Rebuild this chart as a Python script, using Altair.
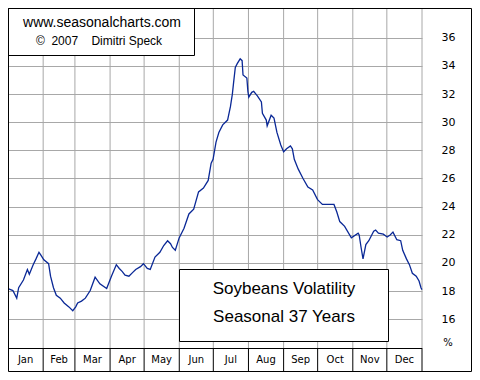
import altair as alt
import pandas as pd

# Day of year (0-365) and seasonal volatility (%)
days = [0, 4.3, 7.7, 9.4, 13.6, 17.1, 18.8, 22.2, 24.7, 27.3, 29.0, 31.6, 35.8, 37.5, 40.1, 42.6, 46.1, 49.5,
        53.7, 57.1, 59.7, 61.4, 64.8, 68.2, 72.5, 76.8, 81.0, 87.0, 91.2, 95.5, 98.1, 100.6, 103.2, 106.6,
        110.0, 112.6, 116.8, 119.4, 122.8, 125.4, 129.6, 133.9, 137.3, 140.7, 143.3, 145.0, 147.5, 150.9,
        155.2, 159.5, 163.7, 168.0, 172.3, 176.5, 179.1, 180.8, 183.4, 185.9, 189.3, 193.6, 196.1, 197.8,
        198.7, 200.4, 202.1, 204.7, 206.4, 207.2, 210.6, 211.5, 212.3, 214.9, 216.6, 220.0, 223.4, 224.3,
        227.7, 228.5, 232.0, 234.5, 237.1, 240.5, 243.0, 245.6, 249.0, 250.7, 252.4, 255.8, 260.1, 264.4,
        268.6, 272.9, 277.2, 281.4, 287.4, 289.9, 292.5, 296.8, 302.7, 308.7, 309.6, 311.3, 313.0, 315.5,
        318.1, 322.4, 324.1, 326.6, 330.9, 334.3, 336.9, 339.4, 342.8, 346.2, 348.0, 351.3, 353.9, 356.5,
        359.9, 362.4, 364.1, 365]
vols = [18.18, 18.04, 17.50, 18.24, 18.79, 19.54, 19.20, 19.88, 20.29, 20.76, 20.56, 20.22, 19.95, 19.06,
        18.24, 17.70, 17.50, 17.16, 16.88, 16.61, 16.88, 17.16, 17.29, 17.50, 18.04, 18.99, 18.52, 18.18,
        19.06, 19.88, 19.61, 19.40, 19.13, 19.06, 19.33, 19.54, 19.74, 19.95, 19.61, 19.54, 20.42, 20.76,
        21.24, 21.58, 21.37, 21.10, 20.90, 21.78, 22.46, 23.48, 23.82, 25.05, 25.32, 25.86, 27.09, 27.36,
        28.59, 29.27, 29.81, 30.15, 31.10, 31.99, 32.67, 33.89, 34.16, 34.50, 34.37, 33.35, 33.14, 32.19,
        31.78, 32.12, 32.19, 31.85, 31.44, 30.63, 30.15, 29.74, 30.49, 30.29, 29.27, 28.38, 27.90, 28.11,
        28.31, 28.11, 27.36, 26.68, 26.00, 25.39, 25.18, 24.50, 24.16, 24.16, 24.16, 23.62, 22.94, 22.60,
        21.78, 22.12, 21.99, 21.10, 20.29, 21.31, 21.58, 22.26, 22.33, 22.12, 22.05, 21.85, 21.99, 22.19,
        21.65, 21.58, 20.90, 20.29, 19.88, 19.27, 19.06, 18.72, 18.24, 18.11]

months = ["Jan", "Feb", "Mar", "Apr", "May", "Jun", "Jul", "Aug", "Sep", "Oct", "Nov", "Dec"]
month_starts = [0, 31, 59, 90, 120, 151, 181, 212, 243, 273, 304, 334]
month_ends = [31, 59, 90, 120, 151, 181, 212, 243, 273, 304, 334, 365]
y_ticks = [16, 18, 20, 22, 24, 26, 28, 30, 32, 34, 36]

W, H = 414, 340
FONT = "Liberation Sans"
GRID = "#a8a8a8"
NB = "\u00a0"

line_df = pd.DataFrame({"d": days, "v": vols})
mdf = pd.DataFrame({"m": months, "s": month_starts, "e": month_ends})
mdf["mid"] = (mdf["s"] + mdf["e"]) / 2
one = pd.DataFrame({"a": [0]})

xs = alt.Scale(domain=[0, 365], nice=False, zero=False)
ys = alt.Scale(domain=[13.96, 38.11], nice=False, zero=False)

vgrid = alt.Chart(mdf).mark_rule(color=GRID, strokeWidth=1).encode(
    x=alt.X("e:Q", scale=xs, axis=None), y=alt.value(0), y2=alt.value(H))

line = alt.Chart(line_df).mark_line(color="#0a2896", strokeWidth=1.3).encode(
    x=alt.X("d:Q", scale=xs, axis=None),
    y=alt.Y("v:Q", scale=ys, axis=alt.Axis(
        orient="right", values=y_ticks, title=None, tickSize=0, domain=False,
        labelPadding=19, grid=True, gridColor=GRID, gridOpacity=1,
        labelFont="DejaVu Sans", labelFontSize=11, labelColor="black")))

box1 = alt.Chart(one).mark_rect(fill="white", stroke="black", strokeWidth=1).encode(
    x=alt.value(0.5), x2=alt.value(186.5), y=alt.value(0.5), y2=alt.value(47.5))
t1 = alt.Chart(one).mark_text(text="www.seasonalcharts.com", font=FONT, fontSize=14,
                              align="center", baseline="middle").encode(
    x=alt.value(94), y=alt.value(15))
t2 = alt.Chart(one).mark_text(text="©" + NB * 2 + "2007" + NB * 4 + "Dimitri Speck", font=FONT, fontSize=12,
                              align="center", baseline="middle").encode(
    x=alt.value(91), y=alt.value(33))

box2 = alt.Chart(one).mark_rect(fill="white", stroke="black", strokeWidth=1).encode(
    x=alt.value(171.5), x2=alt.value(380.5), y=alt.value(261.5), y2=alt.value(333.5))
t3 = alt.Chart(one).mark_text(text="Soybeans Volatility", font=FONT, fontSize=17,
                              align="center", baseline="middle").encode(
    x=alt.value(276), y=alt.value(281))
t4 = alt.Chart(one).mark_text(text="Seasonal 37 Years", font=FONT, fontSize=17,
                              align="center", baseline="middle").encode(
    x=alt.value(276), y=alt.value(309))

row_top = alt.Chart(one).mark_rule(color="black").encode(
    x=alt.value(0), x2=alt.value(W), y=alt.value(H + 0.5))
row_sep = alt.Chart(mdf).mark_rule(color="black").encode(
    x=alt.X("e:Q", scale=xs, axis=None), y=alt.value(H), y2=alt.value(H + 23))
row_txt = alt.Chart(mdf).mark_text(font="DejaVu Sans", fontSize=10, color="black",
                                   baseline="middle").encode(
    x=alt.X("mid:Q", scale=xs, axis=None), y=alt.value(H + 12), text="m:N")
pct = alt.Chart(one).mark_text(text="%", font="DejaVu Sans", fontSize=10,
                               baseline="middle").encode(
    x=alt.value(W + 26), y=alt.value(H - 5))

border = alt.Chart(one).mark_rect(fill=None, stroke="black", strokeWidth=1).encode(
    x=alt.value(0.5), x2=alt.value(463.5), y=alt.value(0.5), y2=alt.value(363.5))

chart = alt.layer(vgrid, line, box1, t1, t2, box2, t3, t4, row_top, row_sep, row_txt, pct, border).properties(
    width=W, height=H,
    autosize=alt.AutoSizeParams(type="none"),
    padding={"left": 0, "top": 0, "right": 50, "bottom": 24},
    background="white",
).configure_view(stroke=None)

chart.save("out.html", embed_options={"renderer": "svg", "actions": False})
